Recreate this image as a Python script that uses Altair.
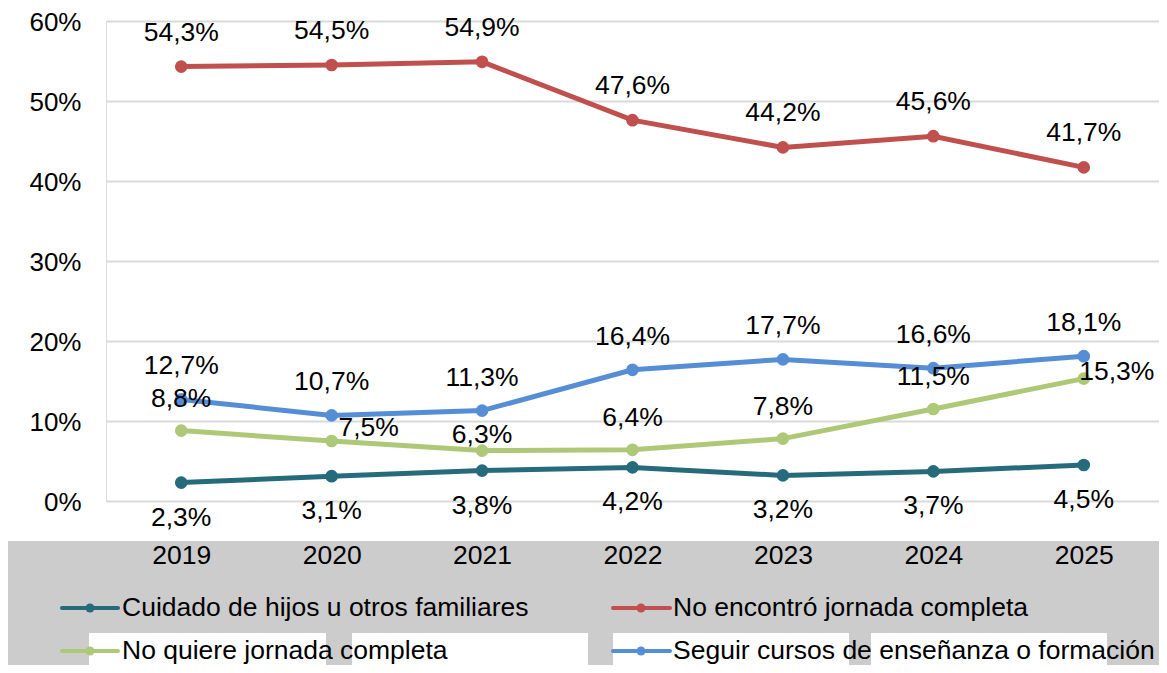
import altair as alt
import pandas as pd

years = ["2019", "2020", "2021", "2022", "2023", "2024", "2025"]
series_names = [
    "Cuidado de hijos u otros familiares",
    "No encontró jornada completa",
    "No quiere jornada completa",
    "Seguir cursos de enseñanza o formación",
]
cuidado = [2.3, 3.1, 3.8, 4.2, 3.2, 3.7, 4.5]
no_encontro = [54.3, 54.5, 54.9, 47.6, 44.2, 45.6, 41.7]
no_quiere = [8.8, 7.5, 6.3, 6.4, 7.8, 11.5, 15.3]
seguir = [12.7, 10.7, 11.3, 16.4, 17.7, 16.6, 18.1]
colors = ["#266b7b", "#c0504d", "#adc978", "#558ed5"]
y_ticks = [0, 10, 20, 30, 40, 50, 60]

rows = []
for name, vals in zip(series_names, [cuidado, no_encontro, no_quiere, seguir]):
    for yr, v in zip(years, vals):
        rows.append({"series": name, "year": yr, "value": v,
                     "label": f"{v:.1f}".replace(".", ",") + "%"})
df = pd.DataFrame(rows)

FONT = "Liberation Sans"
FS = 26.5

color_scale = alt.Scale(domain=series_names, range=colors)

base = alt.Chart(df).encode(
    x=alt.X("year:O", scale=alt.Scale(domain=years, type="point", padding=0.5),
            axis=alt.Axis(title=None, domain=False, ticks=False, grid=False,
                          labelAngle=0, labelFontSize=FS, labelFont=FONT,
                          labelColor="black", labelPadding=54,
                          labelBaseline="middle", zindex=1)),
    y=alt.Y("value:Q", scale=alt.Scale(domain=[0, 60], nice=False),
            axis=alt.Axis(title=None, values=y_ticks, domain=False, ticks=False,
                          labelExpr="datum.value + '%'", labelFontSize=26,
                          labelFont=FONT, labelColor="black", labelPadding=25,
                          labelOffset=1, gridColor="#d9d9d9", gridWidth=2)),
    color=alt.Color("series:N", scale=color_scale, legend=None),
)

lines = base.mark_line(strokeWidth=5)
points = base.mark_point(filled=True, size=160, opacity=1)


def labels(series, dy, dx=0, years_sel=None):
    c = base.transform_filter(alt.datum.series == series)
    if years_sel is not None:
        c = c.transform_filter(alt.FieldOneOfPredicate(field="year", oneOf=years_sel))
    return c.mark_text(fontSize=FS, font=FONT, color="black", baseline="middle",
                       dx=dx, dy=dy).encode(text="label:N", color=alt.value("black"))


label_layers = [
    labels(series_names[0], 35),
    labels(series_names[1], -34),
    labels(series_names[3], -33),
    labels(series_names[2], -32, years_sel=["2019", "2022", "2023", "2024"]),
    labels(series_names[2], -16, years_sel=["2021"]),
    labels(series_names[2], -13, dx=37, years_sel=["2020"]),
    labels(series_names[2], -7, dx=33, years_sel=["2025"]),
]

one = pd.DataFrame({"a": [0]})
gray_band = alt.Chart(one).mark_rect(color="#cccccc").encode(
    x=alt.value(-98), x2=alt.value(1061), y=alt.value(520), y2=alt.value(680))

white_boxes = [
    alt.Chart(one).mark_rect(color="white").encode(
        x=alt.value(x1), x2=alt.value(x2), y=alt.value(612), y2=alt.value(680))
    for x1, x2 in [(-17, 220), (246, 482), (507, 743), (765, 1001)]
]

legend_layers = []
legend_pos = [(0, 587), (1, 587), (0, 630), (1, 630)]
for name, col, (c, yy) in zip(series_names, colors, legend_pos):
    lx1, lx2, cx, tx = (-44, 12, -16, 16) if c == 0 else (507, 564, 535, 567)
    legend_layers.append(alt.Chart(one).mark_rule(color=col, strokeWidth=4, strokeCap="round").encode(
        x=alt.value(lx1), x2=alt.value(lx2), y=alt.value(yy)))
    legend_layers.append(alt.Chart(one).mark_point(color=col, filled=True, size=80, opacity=1).encode(
        x=alt.value(cx), y=alt.value(yy)))
    legend_layers.append(alt.Chart(one).mark_text(fontSize=FS, font=FONT, color="black",
                                                  align="left", baseline="middle").encode(
        x=alt.value(tx), y=alt.value(yy), text=alt.value(name)))

chart = alt.layer(
    gray_band, *white_boxes, lines, points, *label_layers, *legend_layers
).properties(
    width=1053, height=480,
    padding={"left": 98, "top": 13, "right": 0, "bottom": 164},
    autosize=alt.AutoSizeParams(type="none"),
).configure_view(stroke=None).configure(font=FONT)

chart.save("out.html", embed_options={"renderer": "svg", "actions": False})
